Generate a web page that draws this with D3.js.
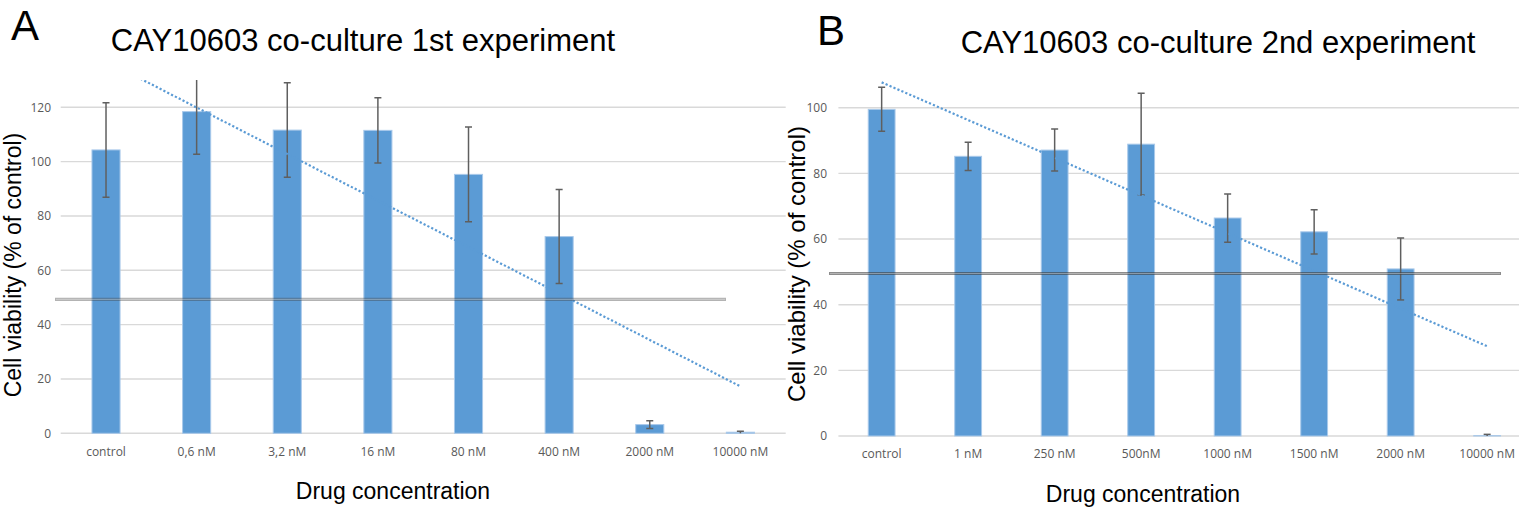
<!DOCTYPE html>
<html>
<head>
<meta charset="utf-8">
<script src="https://cdn.jsdelivr.net/npm/d3@7/dist/d3.min.js"></script>
<style>
  html, body { margin: 0; padding: 0; background: #fff; }
  svg { display: block; }
</style>
</head>
<body>
<svg id="fig" width="1519" height="508"></svg>
<script>
// ---- Experiment 1 ----
const catsA = ["control", "0,6 nM", "3,2 nM", "16 nM", "80 nM", "400 nM", "2000 nM", "10000 nM"];
const meanA = [104.3, 118.4, 111.6, 111.5, 95.3, 72.4, 3.2, 0.4];
const errA  = [17.4, 15.7, 17.4, 12.0, 17.4, 17.3, 1.4, 0.4];
const ticksA = [0, 20, 40, 60, 80, 100, 120];
const thresholdA = 49.3;

// ---- Experiment 2 ----
const catsB = ["control", "1 nM", "250 nM", "500nM", "1000 nM", "1500 nM", "2000 nM", "10000 nM"];
const meanB = [99.5, 85.2, 87.1, 88.9, 66.4, 62.2, 50.9, 0.1];
const errB  = [6.7, 4.3, 6.4, 15.5, 7.35, 6.75, 9.45, 0.4];
const ticksB = [0, 20, 40, 60, 80, 100];
const thresholdB = 49.5;

const svg = d3.select("#fig");
svg.append("rect").attr("width", 1519).attr("height", 508).attr("fill", "#fff");

const BAR = "#5b9bd5";
const TICKFONT = "'Open Sans', sans-serif";
const TITLEFONT = "'Liberation Sans', Arial, sans-serif";

function panel(cfg) {
  const g = svg.append("g");
  const data = cfg.cats.map((c, i) => ({ cat: c, v: cfg.mean[i], e: cfg.err[i], i }));

  const x = d3.scaleBand().domain(cfg.cats).range([cfg.x0, cfg.x1]).paddingInner(0.69).paddingOuter(0.345);
  const y = d3.scaleLinear().domain([0, cfg.yMax]).range([cfg.yBase, cfg.yTop]);

  const clipId = "clip-" + cfg.id;
  svg.append("clipPath").attr("id", clipId)
    .append("rect").attr("x", cfg.x0).attr("y", y(cfg.yMax))
    .attr("width", cfg.x1 - cfg.x0).attr("height", y(0) - y(cfg.yMax) + 2);

  // gridlines
  g.append("g").selectAll("line").data(cfg.ticks).join("line")
    .attr("x1", cfg.x0).attr("x2", cfg.x1)
    .attr("y1", d => y(d)).attr("y2", d => y(d))
    .attr("stroke", "#d9d9d9").attr("stroke-width", 1.4);

  // y tick labels
  const yAxis = d3.axisLeft(y).tickValues(cfg.ticks).tickSize(0).tickPadding(0);
  const ya = g.append("g").attr("transform", `translate(${cfg.yLabelX},0)`).call(yAxis);
  ya.select(".domain").remove();
  ya.selectAll("text").attr("fill", "#595959").attr("font-size", 12).attr("font-family", TICKFONT);

  // x tick labels
  const xAxis = d3.axisBottom(x).tickSize(0).tickPadding(0);
  const xa = g.append("g").attr("transform", `translate(0,${cfg.xLabelY})`).call(xAxis);
  xa.select(".domain").remove();
  xa.selectAll("text").attr("fill", "#595959").attr("font-size", 12).attr("font-family", TICKFONT).attr("dy", 0);

  const plot = g.append("g").attr("clip-path", `url(#${clipId})`);

  // bars
  plot.selectAll("rect.bar").data(data).join("rect").attr("class", "bar")
    .attr("x", d => x(d.cat)).attr("width", x.bandwidth())
    .attr("y", d => y(d.v)).attr("height", d => y(0) - y(d.v))
    .attr("fill", BAR).attr("stroke", "#a9c9ea").attr("stroke-width", 1);

  // error bars
  const cx = d => x(d.cat) + x.bandwidth() / 2;
  const eb = plot.append("g").attr("stroke", "#5f5f5f").attr("stroke-width", 1.5);
  eb.selectAll("line.stem").data(data).join("line").attr("class", "stem")
    .attr("x1", cx).attr("x2", cx)
    .attr("y1", d => y(d.v + d.e)).attr("y2", d => y(Math.max(0, d.v - d.e)));
  eb.selectAll("line.capTop").data(data.filter(d => d.v + d.e <= cfg.yMax)).join("line").attr("class", "capTop")
    .attr("x1", d => cx(d) - 3.5).attr("x2", d => cx(d) + 3.5)
    .attr("y1", d => y(d.v + d.e)).attr("y2", d => y(d.v + d.e));
  eb.selectAll("line.capBot").data(data.filter(d => d.v - d.e > 0.3)).join("line").attr("class", "capBot")
    .attr("x1", d => cx(d) - 3.5).attr("x2", d => cx(d) + 3.5)
    .attr("y1", d => y(d.v - d.e)).attr("y2", d => y(d.v - d.e));

  // linear trendline (least squares on category index 1..n)
  const n = data.length;
  const xs = data.map(d => d.i + 1);
  const mx = d3.mean(xs), my = d3.mean(cfg.mean);
  const sxy = d3.sum(data, d => (d.i + 1 - mx) * (d.v - my));
  const sxx = d3.sum(xs, v => (v - mx) * (v - mx));
  const slope = sxy / sxx, icpt = my - slope * mx;
  const ends = [data[0], data[n - 1]];
  plot.append("line")
    .attr("x1", cx(ends[0])).attr("y1", y(icpt + slope * 1))
    .attr("x2", cx(ends[1])).attr("y2", y(icpt + slope * n))
    .attr("stroke", BAR).attr("stroke-width", 2.2)
    .attr("stroke-dasharray", "2.2 2.1");

  // 50 % reference line
  const ty = y(cfg.threshold);
  g.append("line").attr("x1", cfg.thrX0).attr("x2", cfg.thrX1).attr("y1", ty).attr("y2", ty)
    .attr("stroke", "#404040").attr("stroke-opacity", cfg.thrOpacity).attr("stroke-width", 3.2);
  g.append("line").attr("x1", cfg.thrX0 + 1).attr("x2", cfg.thrX1 - 1).attr("y1", ty).attr("y2", ty)
    .attr("stroke", "#ffffff").attr("stroke-opacity", 0.35).attr("stroke-width", 1);

  // titles
  g.append("text").text(cfg.letter)
    .attr("x", cfg.letterX).attr("y", cfg.letterY)
    .attr("font-family", TITLEFONT).attr("font-size", 42).attr("fill", "#000");
  g.append("text").text(cfg.title)
    .attr("x", cfg.titleX).attr("y", cfg.titleY).attr("text-anchor", "middle")
    .attr("font-family", TITLEFONT).attr("font-size", 31).attr("fill", "#000");
  g.append("text").text("Drug concentration")
    .attr("x", cfg.xtX).attr("y", cfg.xtY).attr("text-anchor", "middle")
    .attr("font-family", TITLEFONT).attr("font-size", 23).attr("fill", "#000");
  g.append("text").text("Cell viability (% of control)")
    .attr("transform", `translate(${cfg.ytX},${cfg.ytY}) rotate(-90)`)
    .attr("text-anchor", "middle").attr("dominant-baseline", "central")
    .attr("font-family", TITLEFONT).attr("font-size", cfg.ytSize).attr("fill", "#000");
}

panel({
  id: "a", letter: "A", title: "CAY10603 co-culture 1st experiment",
  cats: catsA, mean: meanA, err: errA, ticks: ticksA, threshold: thresholdA,
  x0: 60.7, x1: 785.7, yBase: 433.3, yTop: 80.1, yMax: 130,
  yLabelX: 51, xLabelY: 456,
  thrX0: 55, thrX1: 726, thrOpacity: 0.4,
  letterX: 11, letterY: 40, titleX: 363, titleY: 51,
  xtX: 393, xtY: 499, ytX: 13, ytY: 265, ytSize: 23
});

panel({
  id: "b", letter: "B", title: "CAY10603 co-culture 2nd experiment",
  cats: catsB, mean: meanB, err: errB, ticks: ticksB, threshold: thresholdB,
  x0: 838.4, x1: 1530.4, yBase: 436, yTop: 74.9, yMax: 110,
  yLabelX: 827, xLabelY: 458,
  thrX0: 829, thrX1: 1501, thrOpacity: 0.6,
  letterX: 817, letterY: 45, titleX: 1218, titleY: 53,
  xtX: 1143, xtY: 502, ytX: 796, ytY: 264, ytSize: 24
});
</script>
</body>
</html>
